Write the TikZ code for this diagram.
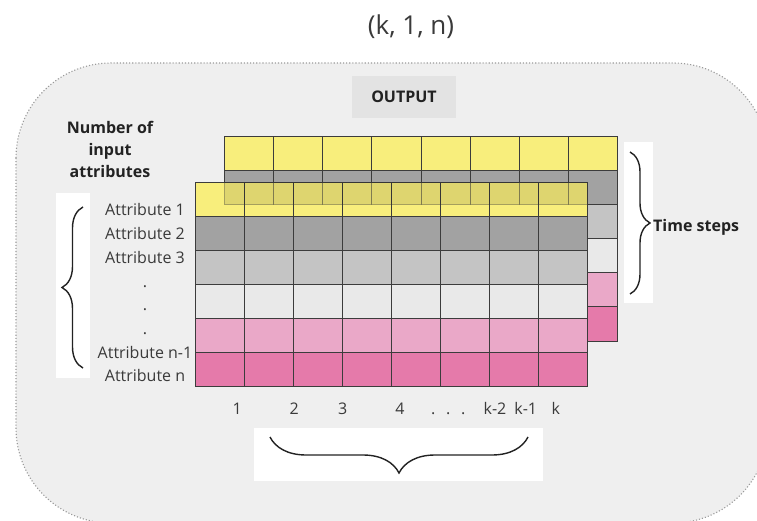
\documentclass[tikz,border=0pt]{standalone}
\usepackage{fontspec}
\setmainfont{Open Sans}
\usetikzlibrary{decorations.pathreplacing}
\definecolor{bgc}{HTML}{EFEFEF}
\definecolor{bgline}{HTML}{9A9A9A}
\definecolor{outbox}{HTML}{E3E3E3}
\definecolor{yel}{HTML}{F8EE7C}
\definecolor{dg}{HTML}{A2A2A2}
\definecolor{gr}{HTML}{C4C4C4}
\definecolor{lt}{HTML}{E9E9E9}
\definecolor{pk}{HTML}{EAA8C8}
\definecolor{dp}{HTML}{E57AAA}
\definecolor{gridc}{HTML}{3C3C3C}
\definecolor{txt}{HTML}{3A3A3A}
\definecolor{btxt}{HTML}{222222}
\begin{document}
\begin{tikzpicture}[x=1pt,y=-1pt,
  cell/.style={draw=gridc, line width=0.8pt},
  lab/.style={font=\fontsize{16}{19}\selectfont, text=txt, inner sep=0pt, anchor=base},
  blab/.style={font=\fontsize{16}{22}\selectfont\bfseries, text=btxt, inner sep=0pt},
  bracebox/.style={fill=white, draw=none},
  bracestyle/.style={draw=btxt, line width=1.4pt, decorate}
]
\useasboundingbox (0,0) rectangle (757,521);
\fill[white] (0,0) rectangle (757,521);
% outer rounded panel
\draw[bgline, dotted, line width=1.1pt, fill=bgc, rounded corners=95pt] (16,63) rectangle (768,523);

% title and output box
\node[font=\fontsize{26}{30}\selectfont, text=txt] (title) at (411,27) {(k, 1, n)};
\node[fill=outbox, minimum width=104pt, minimum height=42pt, font=\fontsize{16}{19}\selectfont\bfseries, text=btxt] (output) at (404,97) {OUTPUT};

% back grid
\foreach \c [count=\i from 0] in {yel,dg,gr,lt,pk,dp}
  \foreach \j in {0,...,7}
    \draw[cell, fill=\c] ({224.3+\j*49.15},{136+\i*34.17}) rectangle +(49.15,34.17);

% front grid
\foreach \c [count=\i from 0] in {yel,dg,gr,lt,pk,dp}
  \foreach \j in {0,...,7}
    \draw[cell, fill=\c] ({195+\j*49.06},{182.3+\i*34.07}) rectangle +(49.06,34.07);

% translucent overlap of back grid's second row over the front yellow row
\begin{scope}
  \clip (195,182.3) rectangle (587.7,216.4);
  \foreach \j in {0,...,7}
    \draw[fill=black, fill opacity=0.1, draw=gridc, draw opacity=0.35, line width=0.8pt]
      ({224.3+\j*49.15},170.47) rectangle +(49.15,34.17);
\end{scope}

% left header
\node[blab, align=center] (hdr) at (110,149) {Number of\\input\\attributes};

% attribute labels
\node[lab] (a1) at (145,216) {Attribute 1};
\node[lab] (a2) at (145,239.7) {Attribute 2};
\node[lab] (a3) at (145,263.4) {Attribute 3};
\node[lab] (d1) at (145,287.1) {.};
\node[lab] (d2) at (145,310.8) {.};
\node[lab] (d3) at (145,334.5) {.};
\node[lab] (an1) at (145,358.2) {Attribute n-1};
\node[lab] (an) at (145,381.9) {Attribute n};

% left brace
\fill[bracebox] (56,193) rectangle (90,378);
\coordinate (lb1) at (83,368);
\coordinate (lb2) at (83,207);
\draw[bracestyle, decoration={brace, amplitude=21pt}] (lb1) -- (lb2);

% right brace
\fill[bracebox] (624,142) rectangle (653,303);
\coordinate (rb1) at (630,152);
\coordinate (rb2) at (630,294);
\draw[bracestyle, decoration={brace, amplitude=20pt}] (rb1) -- (rb2);
\node[blab, anchor=west] (ts) at (653,227) {Time steps};

% column numbers
\node[lab] (n1) at (237.3,414) {1};
\node[lab] (n2) at (294.3,414) {2};
\node[lab] (n3) at (342.7,414) {3};
\node[lab] (n4) at (400,414) {4};
\node[lab] (e1) at (433.3,414) {.};
\node[lab] (e2) at (448.3,414) {.};
\node[lab] (e3) at (463.3,414) {.};
\node[lab] (nk2) at (495,414) {k-2};
\node[lab] (nk1) at (525.7,414) {k-1};
\node[lab] (nk) at (555.7,414) {k};

% bottom brace
\fill[bracebox] (254,428) rectangle (543,481);
\coordinate (bb1) at (528,437);
\coordinate (bb2) at (270,437);
\draw[bracestyle, decoration={brace, amplitude=36pt}] (bb1) -- (bb2);
\end{tikzpicture}
\end{document}
